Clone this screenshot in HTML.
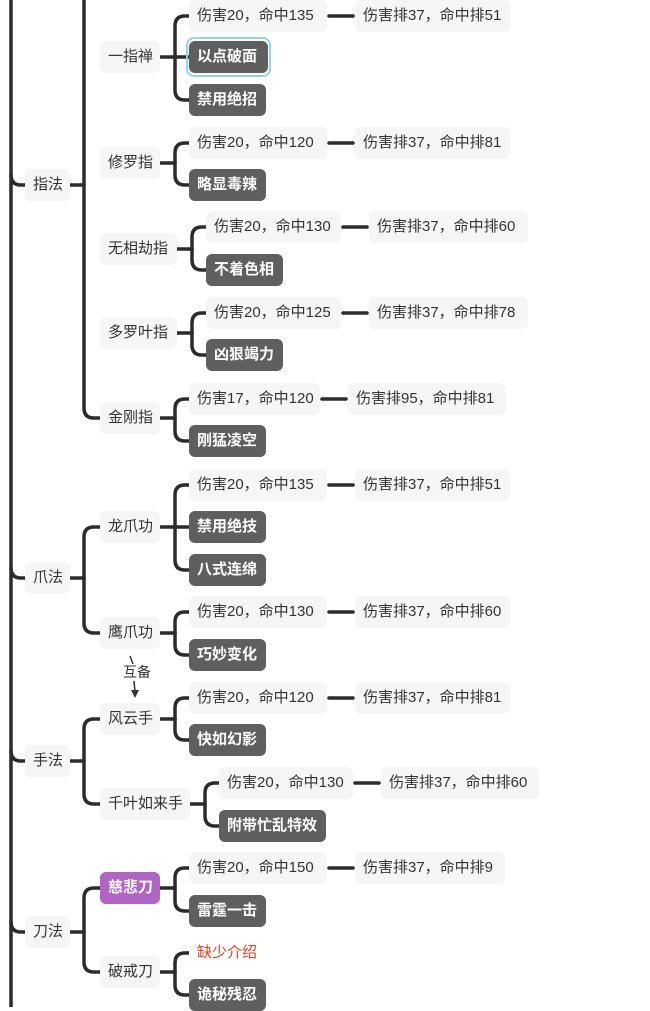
<!DOCTYPE html>
<html><head><meta charset="utf-8"><style>
html,body{margin:0;padding:0;width:650px;height:1007px;overflow:hidden;background:#fff;}
.n{position:absolute;height:32px;line-height:32px;padding:0 8px;border-radius:6px;background:#f6f6f6;color:#333;font-family:"Liberation Sans","Noto Sans CJK SC",sans-serif;font-size:15px;white-space:nowrap;box-sizing:border-box;}
.g{background:#5f5f5f;color:#fff;font-weight:bold;}
.p{background:#b164c6;color:#fff;font-weight:bold;}
.r{background:#fff;color:#e8401c;}
svg{position:absolute;left:0;top:0;}
</style></head><body>
<svg id="s" width="650" height="1007"></svg>
<div id="c"></div>
<script>
var s=document.getElementById('s'),c=document.getElementById('c');
var P='';
function node(t,x,cy,w,cls){var d=document.createElement('div');d.className='n '+(cls||'');d.style.left=x+'px';d.style.top=(cy-16)+'px';d.style.width=w+'px';d.textContent=t;c.appendChild(d);}
function line(x1,y1,x2,y2){P+='<path d="M'+x1+' '+y1+'L'+x2+' '+y2+'"/>';}
function br(xb,py,x0,kids){ // kids: [cy,left]
 line(x0,py,xb,py);
 var ys=kids.map(k=>k[0]);var mn=Math.min.apply(0,ys),mx=Math.max.apply(0,ys);
 var r=10;
 kids.forEach(function(k){var cy=k[0],cl=k[1];
  if(Math.abs(cy-py)<3){line(xb,cy,cl,cy);return;}
  var dir=cy<py?1:-1;
  P+='<path d="M'+xb+' '+py+'V'+(cy+dir*r)+'Q'+xb+' '+cy+' '+(xb+r)+' '+cy+'H'+cl+'"/>';});
}
// main line
line(11,0,11,1007);
[[185,25],[578,25],[761,25],[932,25]].forEach(function(k){P+='<path d="M11 '+(k[0]-10)+'Q11 '+k[0]+' 21 '+k[0]+'H'+k[1]+'"/>';});
// level1 brackets
line(84,0,84,185);
br(84,185,70,[[418,100]]);
br(84,578,70,[[527,100],[633,100]]);
br(84,761,70,[[719,100],[804,100]]);
br(84,932,70,[[888,100],[972,100]]);
node('指法',25,185,45);node('爪法',25,578,45);node('手法',25,761,45);node('刀法',25,932,45);
// level 2
var L2=[['一指禅',57,60,[[16,'伤害20，命中135',138,'伤害排37，命中排51',155],[57,'以点破面',79,'g'],[100,'禁用绝招',77,'g']]],
['修罗指',163,60,[[143,'伤害20，命中120',138,'伤害排37，命中排81',155],[185,'略显毒辣',77,'g']]],
['无相劫指',249,77,[[227,'伤害20，命中130',135,'伤害排37，命中排60',159],[270,'不着色相',77,'g']]],
['多罗叶指',333,77,[[313,'伤害20，命中125',135,'伤害排37，命中排78',159],[355,'凶狠竭力',77,'g']]],
['金刚指',418,60,[[399,'伤害17，命中120',131,'伤害排95，命中排81',158],[441,'刚猛凌空',77,'g']]],
['龙爪功',527,60,[[485,'伤害20，命中135',138,'伤害排37，命中排51',155],[527,'禁用绝技',77,'g'],[570,'八式连绵',77,'g']]],
['鹰爪功',633,60,[[612,'伤害20，命中130',138,'伤害排37，命中排60',155],[655,'巧妙变化',77,'g']]],
['风云手',719,60,[[698,'伤害20，命中120',138,'伤害排37，命中排81',155],[740,'快如幻影',77,'g']]],
['千叶如来手',804,90,[[783,'伤害20，命中130',134,'伤害排37，命中排60',158],[826,'附带忙乱特效',107,'g']]],
['慈悲刀',888,60,[[868,'伤害20，命中150',138,'伤害排37，命中排9',150],[911,'雷霆一击',77,'g']]],
['破戒刀',972,60,[[953,'缺少介绍',77,'r'],[995,'诡秘残忍',77,'g']]]];
L2.forEach(function(a){
 var x2=a[2]+100; var xb=x2+15; var cl=xb+14;
 node(a[0],100,a[1],a[2],a[0]=='慈悲刀'?'p':'');
 br(xb,a[1],x2,a[3].map(k=>[k[0],cl]));
 a[3].forEach(function(k){
  if(k.length==5){node(k[1],cl,k[0],k[2]);var x3=cl+k[2];var x4=x3+28;line(x3+2,k[0],x4-2,k[0]);node(k[3],x4,k[0],k[4]);}
  else node(k[1],cl,k[0],k[2],k[3]);
 });
});
s.innerHTML='<g fill="none" stroke="#2b2b2b" stroke-width="3.5" stroke-linecap="round">'+P+'</g>'+
'<rect x="187" y="38" width="83" height="38" rx="7" fill="none" stroke="#8fd3f0" stroke-width="2"/>'+
'<path d="M130 656 L133 664 M134 681 L135 692" stroke="#333" stroke-width="1.5" fill="none"/>'+
'<path d="M131 690 L139 690 L135 698 Z" fill="#333"/>'+
'<text x="137" y="677" font-family="Liberation Sans,Noto Sans CJK SC,sans-serif" font-size="14" fill="#333" text-anchor="middle">互备</text>';
</script>
</body></html>
